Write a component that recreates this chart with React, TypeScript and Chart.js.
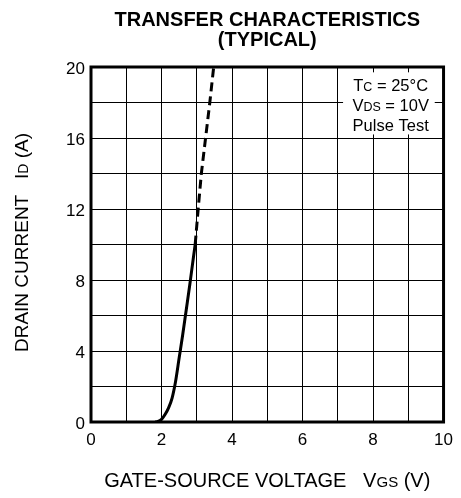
import React, { useEffect, useRef } from "react";
import { Chart, registerables } from "chart.js";

Chart.register(...registerables);

// ---- data ----
const solidVgs = [1.82, 1.9, 2.0, 2.1, 2.2, 2.3, 2.4, 2.5, 2.6, 2.7, 2.8, 2.9, 2.955];
const solidId = [0, 0.03, 0.15, 0.42, 0.8, 1.35, 2.3, 3.6, 4.9, 6.3, 7.7, 9.2, 10];
const dashedVgs = [2.955, 3.04, 3.13, 3.25, 3.37, 3.48];
const dashedId = [10, 12, 14, 16, 18, 20];

const titleLines = ["TRANSFER CHARACTERISTICS", "(TYPICAL)"];
const legendLines = [
  [{ t: "T" }, { t: "C", s: true }, { t: " = 25°C" }],
  [{ t: "V" }, { t: "DS", s: true }, { t: " = 10V" }],
  [{ t: "Pulse Test" }],
];
const xTitle = [{ t: "GATE-SOURCE VOLTAGE   " }, { t: "V" }, { t: "GS", s: true }, { t: " (V)" }];
const yTitle = [{ t: "DRAIN CURRENT   " }, { t: "I" }, { t: "D", s: true }, { t: " (A)" }];

const FONT = "'Liberation Sans', Arial, sans-serif";

type Seg = { t: string; s?: boolean };

function drawRich(ctx: CanvasRenderingContext2D, segs: Seg[], cx: number, baseY: number, size: number, small: number) {
  const widths = segs.map((sg) => {
    ctx.font = `${sg.s ? small : size}px ${FONT}`;
    return ctx.measureText(sg.t).width;
  });
  const total = widths.reduce((a, b) => a + b, 0);
  let x = cx - total / 2;
  ctx.textAlign = "left";
  ctx.textBaseline = "alphabetic";
  segs.forEach((sg, i) => {
    ctx.font = `${sg.s ? small : size}px ${FONT}`;
    ctx.fillText(sg.t, x, baseY);
    x += widths[i];
  });
}

const decorPlugin = {
  id: "decor",
  afterDraw(chart: any) {
    const ctx: CanvasRenderingContext2D = chart.ctx;
    const a = chart.chartArea;
    const xs = chart.scales.x;
    const ys = chart.scales.y;
    ctx.save();
    // legend box
    ctx.fillStyle = "#fff";
    ctx.fillRect(xs.getPixelForValue(7.15), ys.getPixelForValue(19.7), xs.getPixelForValue(9.75) - xs.getPixelForValue(7.15), ys.getPixelForValue(16.2) - ys.getPixelForValue(19.7));
    ctx.fillStyle = "#000";
    const lcx = xs.getPixelForValue(8.5);
    const lb = [90.7, 110.5, 130.5];
    legendLines.forEach((ln, i) => drawRich(ctx, ln as Seg[], lcx, lb[i], 16.5, 12.5));
    // frame
    ctx.strokeStyle = "#000";
    ctx.lineWidth = 3;
    ctx.strokeRect(a.left, a.top, a.right - a.left, a.bottom - a.top);
    // title
    ctx.font = `bold 20px ${FONT}`;
    ctx.textAlign = "center";
    ctx.textBaseline = "alphabetic";
    const tcx = (a.left + a.right) / 2;
    ctx.fillText(titleLines[0], tcx, 26);
    ctx.fillText(titleLines[1], tcx, 45.5);
    // axis titles
    drawRich(ctx, xTitle, tcx, 487, 20, 15);
    ctx.translate(28, (a.top + a.bottom) / 2 - 2);
    ctx.rotate(-Math.PI / 2);
    drawRich(ctx, yTitle, 0, 0, 19, 14);
    ctx.restore();
  },
};

export default function App() {
  const ref = useRef<HTMLCanvasElement | null>(null);
  useEffect(() => {
    document.body.style.margin = "0";
    const canvas = ref.current!;
    const chart = new Chart(canvas, {
      type: "scatter",
      data: {
        datasets: [
          {
            data: solidVgs.map((v, i) => ({ x: v, y: solidId[i] })),
            showLine: true,
            borderColor: "#000",
            borderWidth: 3,
            pointRadius: 0,
            cubicInterpolationMode: "monotone",
          },
          {
            data: dashedVgs.map((v, i) => ({ x: v, y: dashedId[i] })),
            showLine: true,
            borderColor: "#000",
            borderWidth: 3,
            borderDash: [9, 5],
            pointRadius: 0,
            tension: 0,
          },
        ],
      },
      options: {
        responsive: false,
        animation: false,
        layout: { padding: { left: 0, top: 67, right: 14, bottom: 0 } },
        plugins: { legend: { display: false }, tooltip: { enabled: false }, title: { display: false } },
        scales: {
          x: {
            type: "linear",
            min: 0,
            max: 10,
            afterFit(s: any) { s.height = 76; },
            grid: { color: "#000", lineWidth: 1, drawTicks: false },
            border: { display: false },
            ticks: {
              stepSize: 1,
              padding: 8,
              color: "#000",
              font: { family: FONT, size: 17 },
              maxRotation: 0,
              autoSkip: false,
              callback: (v: any) => (Number(v) % 2 === 0 ? String(v) : ""),
            },
          },
          y: {
            type: "linear",
            min: 0,
            max: 20,
            afterFit(s: any) { s.width = 91; },
            grid: { color: "#000", lineWidth: 1, drawTicks: false },
            border: { display: false },
            ticks: {
              stepSize: 2,
              padding: 6,
              labelOffset: 2,
              color: "#000",
              font: { family: FONT, size: 17 },
              autoSkip: false,
              callback: (v: any) => (Number(v) % 4 === 0 ? String(v) : ""),
            },
          },
        },
      },
      plugins: [decorPlugin],
    });
    return () => chart.destroy();
  }, []);
  return (
    <div style={{ width: 461, height: 498 }}>
      <canvas ref={ref} width={461} height={498} style={{ display: "block" }} />
    </div>
  );
}
